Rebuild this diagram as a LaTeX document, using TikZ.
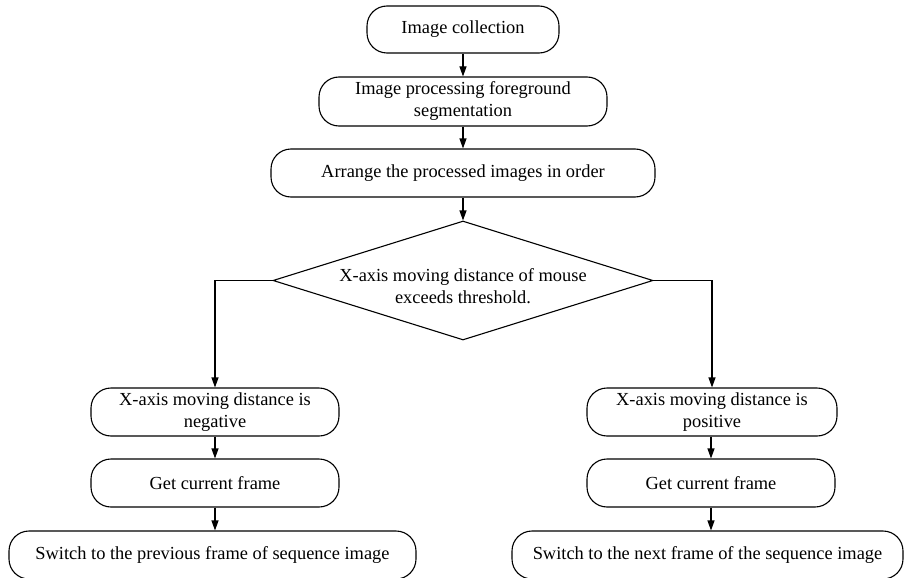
\documentclass[tikz,border=0pt]{standalone}
\usepackage{fontspec}
\setmainfont{Liberation Serif}
\usetikzlibrary{arrows.meta,shapes.geometric}
\begin{document}
\begin{tikzpicture}[x=1pt,y=-1pt,
  every node/.style={font=\fontsize{18.4}{22}\selectfont},
  box/.style={draw,line width=1.1pt,rounded corners=20pt,align=center,inner sep=0pt},
  conn/.style={line width=1.1pt,-{Triangle[length=10pt,width=7pt]}},
  line/.style={line width=1.1pt}]
\useasboundingbox (0,0) rectangle (905,578);
\node[box,minimum width=192pt,minimum height=47pt] (c1) at (463,29.5) {Image collection};
\node[box,minimum width=288pt,minimum height=49pt] (c2) at (463,101.5) {Image processing foreground\\segmentation};
\node[box,minimum width=384pt,minimum height=48pt] (c3) at (463,173) {Arrange the processed images in order};
\node[diamond,draw,line width=1.1pt,minimum width=380pt,minimum height=119pt,inner sep=0pt] (dec) at (463,280.5) {};
\node[align=center] (dect) at (463,286) {X-axis moving distance of mouse\\exceeds threshold.};
\node[box,minimum width=248pt,minimum height=48pt] (l1) at (215,412) {X-axis moving distance is\\negative};
\node[box,minimum width=248pt,minimum height=48pt] (l2) at (215,483) {Get current frame};
\node[box,minimum width=407pt,minimum height=48pt] (l3) at (212.5,555) {Switch to the previous frame of sequence image};
\node[box,minimum width=250pt,minimum height=48pt] (r1) at (712,412) {X-axis moving distance is\\positive};
\node[box,minimum width=248pt,minimum height=48pt] (r2) at (711,483) {Get current frame};
\node[box,minimum width=391pt,minimum height=48pt] (r3) at (707.5,555) {Switch to the next frame of the sequence image};
\draw[conn] (c1.south) -- (c2.north);
\draw[conn] (c2.south) -- (c3.north);
\draw[conn] (c3.south) -- (dec.north);
\draw[conn] (dec.west) -| (l1.north);
\draw[conn] (dec.east) -| (r1.north);
\draw[conn] (l1.south) -- (l2.north);
\draw[conn] (l2.south) -- (l2.south |- l3.north);
\draw[conn] (r1.south -| r2.north) -- (r2.north);
\draw[conn] (r2.south) -- (r2.south |- r3.north);
\end{tikzpicture}
\end{document}
